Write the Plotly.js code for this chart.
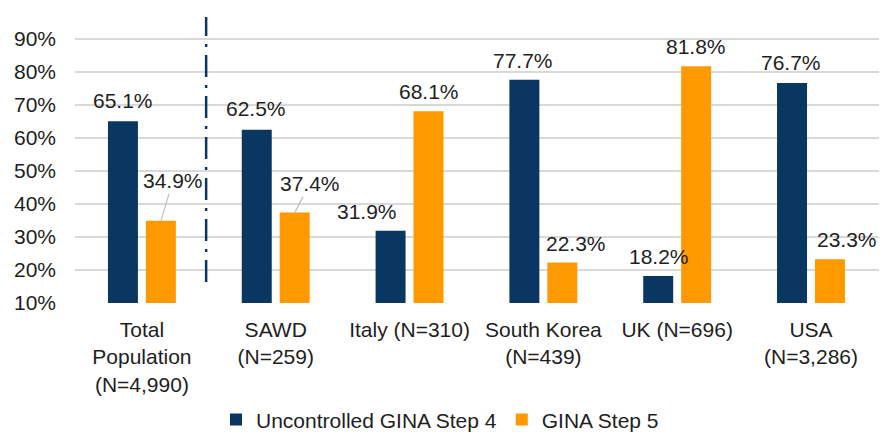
<!DOCTYPE html>
<html>
<head>
<meta charset="utf-8">
<script src="https://cdn.plot.ly/plotly-3.0.1.min.js"></script>
<style>
  html, body { margin: 0; padding: 0; background: #ffffff; }
  #chart { width: 880px; height: 435px; }
</style>
</head>
<body>
<div id="chart"></div>
<script>
// ---- data ----
const categories = [
  "Total<br>Population<br>(N=4,990)",
  "SAWD<br>(N=259)",
  "Italy (N=310)",
  "South Korea<br>(N=439)",
  "UK (N=696)",
  "USA<br>(N=3,286)"
];
const seriesNames = ["Uncontrolled GINA Step 4", "GINA Step 5"];
const step4Values = [65.1, 62.5, 31.9, 77.7, 18.2, 76.7];
const step5Values = [34.9, 37.4, 68.1, 22.3, 81.8, 23.3];
const yTickValues = [10, 20, 30, 40, 50, 60, 70, 80, 90];

// ---- styling / label placement (pixels, relative to bar top centre) ----
const colors = ["#0a3662", "#ff9900"];
const barHalfOffset = 19;
const step4LabelShift = [[0, 21], [-1, 21], [-24, 19], [-1, 19], [1, 19], [-1, 20]];
const step5LabelShift = [[12, 40], [15, 29], [0, 20], [14, 19], [0, 20], [17, 20]];
const step5Leader = [true, true, false, false, false, false];

const font = "Liberation Sans, Arial, sans-serif";
const txtColor = "#1e1e1e";
const fs = 21;

const fmt = v => v.toFixed(1) + "%";

const traces = [
  { type: "bar", name: seriesNames[0], x: categories, y: step4Values,
    marker: { color: colors[0] }, hoverinfo: "skip" },
  { type: "bar", name: seriesNames[1], x: categories, y: step5Values,
    marker: { color: colors[1] }, hoverinfo: "skip" }
];

const annotations = [];
categories.forEach((c, i) => {
  annotations.push({
    x: c, y: step4Values[i], xref: "x", yref: "y",
    text: fmt(step4Values[i]), showarrow: false,
    xanchor: "center", yanchor: "middle",
    xshift: -barHalfOffset + step4LabelShift[i][0], yshift: step4LabelShift[i][1],
    font: { family: font, size: fs, color: txtColor }
  });
  if (step5Leader[i]) {
    annotations.push({
      x: c, y: step5Values[i], xref: "x", yref: "y",
      text: fmt(step5Values[i]), showarrow: true,
      arrowhead: 0, arrowwidth: 1.2, arrowcolor: "#bfbfbf",
      ax: step5LabelShift[i][0], ay: -step5LabelShift[i][1],
      xshift: barHalfOffset,
      xanchor: "center", yanchor: "middle",
      font: { family: font, size: fs, color: txtColor }
    });
  } else {
    annotations.push({
      x: c, y: step5Values[i], xref: "x", yref: "y",
      text: fmt(step5Values[i]), showarrow: false,
      xanchor: "center", yanchor: "middle",
      xshift: barHalfOffset + step5LabelShift[i][0], yshift: step5LabelShift[i][1],
      font: { family: font, size: fs, color: txtColor }
    });
  }
});

const layout = {
  width: 880, height: 435,
  margin: { l: 75, r: 1, t: 17, b: 132 },
  paper_bgcolor: "#ffffff", plot_bgcolor: "#ffffff",
  font: { family: font, size: fs, color: txtColor },
  barmode: "group",
  bargap: 0.433,
  bargroupgap: 0.21,
  showlegend: true,
  legend: {
    orientation: "h", xref: "container", yref: "container",
    x: 0.5, xanchor: "center", y: 0.035, yanchor: "middle",
    font: { family: font, size: fs, color: txtColor },
    traceorder: "normal"
  },
  xaxis: {
    type: "category",
    showgrid: false, zeroline: false, showline: false,
    ticks: "", ticklabelstandoff: 12,
    tickfont: { family: font, size: fs, color: txtColor },
    fixedrange: true
  },
  yaxis: {
    range: [10, 96.7],
    tickvals: yTickValues,
    ticktext: yTickValues.map(v => v + "%"),
    showgrid: true, gridcolor: "#d9d9d9", gridwidth: 1.5,
    zeroline: false, showline: false, ticks: "",
    ticklabelstandoff: 18,
    tickfont: { family: font, size: fs, color: txtColor },
    fixedrange: true
  },
  shapes: [{
    type: "line", xref: "x", yref: "y",
    x0: 0.48, x1: 0.48, y0: 16.4, y1: 96.7,
    line: { color: "#0a3662", width: 2.5, dash: "22px,8px,3px,8px" }
  }],
  annotations: annotations
};

Plotly.newPlot("chart", traces, layout, { displayModeBar: false, staticPlot: true });
</script>
</body>
</html>
